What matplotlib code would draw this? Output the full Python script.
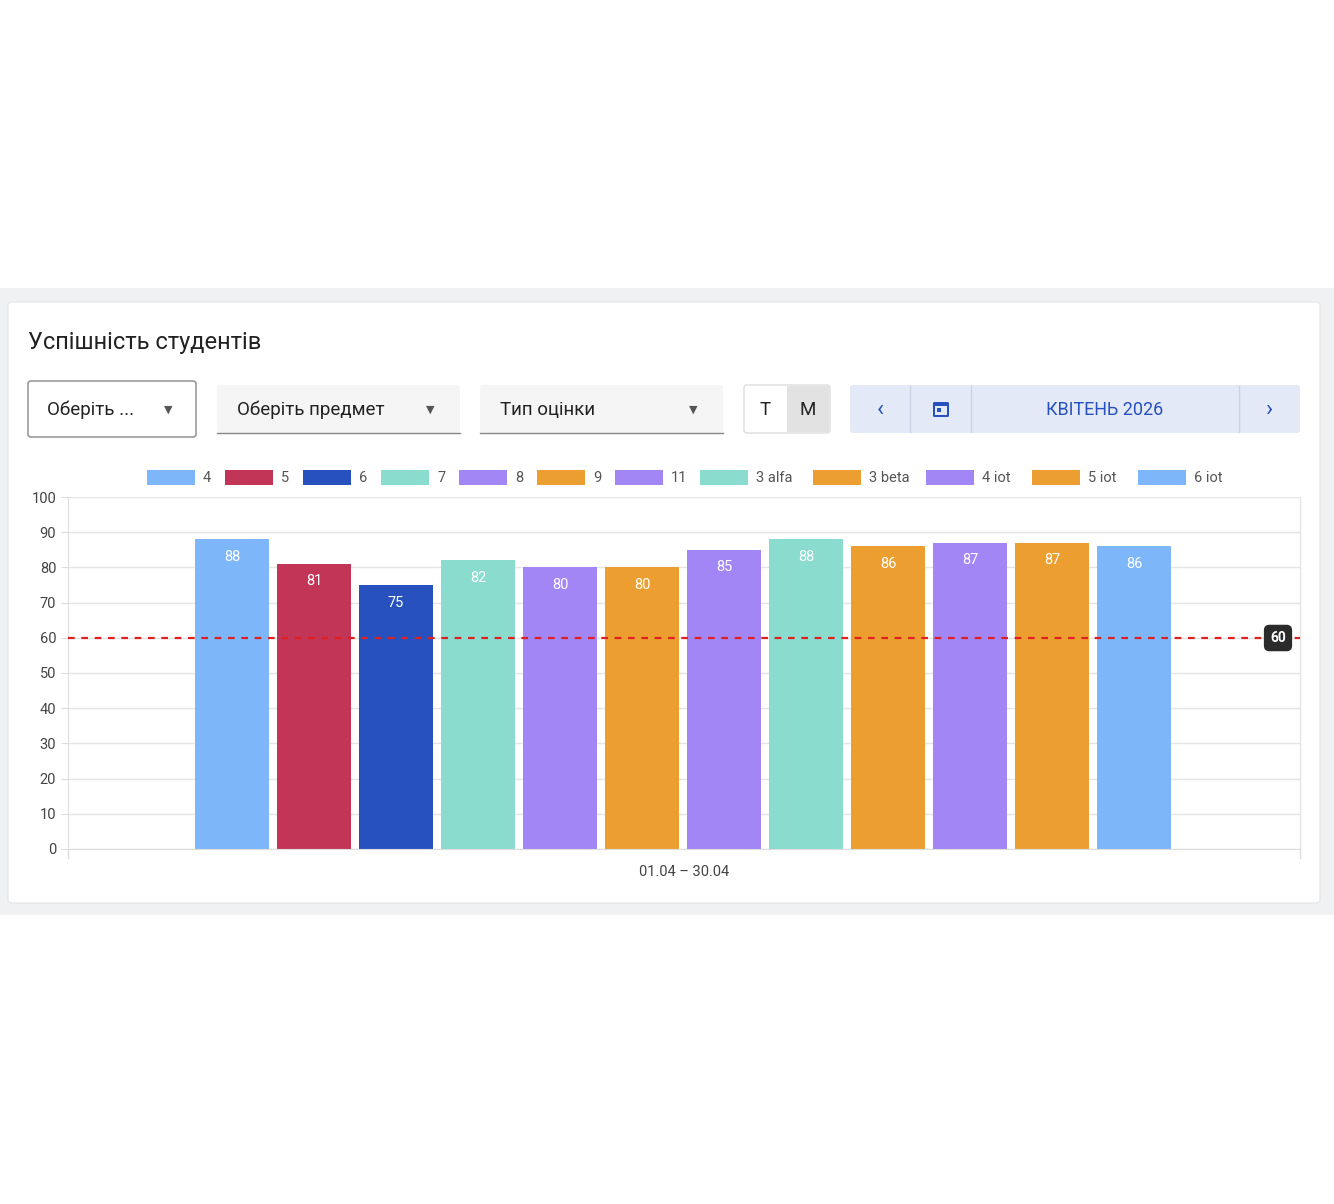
import matplotlib
matplotlib.use("Agg")
import matplotlib.pyplot as plt
from matplotlib.patches import FancyBboxPatch, Rectangle

labels = ["4","5","6","7","8","9","11","3 alfa","3 beta","4 iot","5 iot","6 iot"]
values = [88,81,75,82,80,80,85,88,86,87,87,86]
colors = ["#7EB6FA","#C33557","#2651BE","#8ADCCF","#A286F5","#EC9F30",
          "#A286F5","#8ADCCF","#EC9F30","#A286F5","#EC9F30","#7EB6FA"]
threshold = 60
yticks = list(range(0,101,10))
xlabel = "01.04 – 30.04"

W, H = 1334, 1204
fig = plt.figure(figsize=(W/100, H/100), dpi=100)
plt.rcParams['font.family'] = ['Roboto', 'DejaVu Sans']

def fx(x): return x/W
def fy(y): return 1 - y/H

def rect(x0, y0, x1, y1, fc, ec='none', lw=0, r=0, z=0):
    p = FancyBboxPatch((fx(x0), fy(y1)), fx(x1)-fx(x0), fy(y0)-fy(y1),
                       boxstyle=f"round,pad=0,rounding_size={r/W}",
                       fc=fc, ec=ec, lw=lw, transform=fig.transFigure, zorder=z)
    fig.patches.append(p)

rect(0, 288, W, 915, "#F0F1F3")
rect(8, 302, 1320, 903, "white", ec="#E4E4E4", lw=0.8, r=4)
fig.text(fx(28), fy(342), "Успішність студентів", fontsize=17, va='center', color='#222')

# controls
rect(28, 381, 196, 437, "white", ec="#888", lw=1, r=3)
fig.text(fx(47), fy(410), "Оберіть ...", fontsize=13.5, va='center', color='#222')
def tri(x, y):
    fig.text(fx(x), fy(y), "▼", fontsize=8, ha='center', va='center', color='#555')
tri(168, 410)
for x0, x1, t in [(217, 460, "Оберіть предмет"), (480, 723, "Тип оцінки")]:
    rect(x0, 385, x1, 433, "#F5F5F5", r=3)
    fig.lines.append(plt.Line2D([fx(x0), fx(x1)], [fy(433), fy(433)], color='#888', lw=1, transform=fig.transFigure))
    fig.text(fx(x0+20), fy(410), t, fontsize=13.5, va='center', color='#222')
    tri(x1-30, 410)
rect(744, 385, 830, 433, "white", ec="#DDD", lw=1, r=3)
rect(787, 386, 829, 432, "#E2E2E2")
fig.text(fx(765), fy(410), "Т", fontsize=13.5, ha='center', va='center', color='#222')
fig.text(fx(808), fy(410), "М", fontsize=13.5, ha='center', va='center', color='#222')
rect(850, 385, 1300, 433, "#E3E9F6", r=3)
for x in (910, 971, 1239):
    fig.lines.append(plt.Line2D([fx(x), fx(x)], [fy(386), fy(432)], color='#CBD3E6', lw=1, transform=fig.transFigure))
fig.text(fx(880), fy(409), "‹", fontsize=17, ha='center', va='center', color='#2651BE')
fig.text(fx(1270), fy(409), "›", fontsize=17, ha='center', va='center', color='#2651BE')
rect(933, 402, 949, 417, "#2651BE", r=1.5)
rect(935, 406, 947, 415, "#E3E9F6")
rect(937, 408, 941, 412, "#2651BE")
fig.text(fx(1105), fy(410), "КВІТЕНЬ 2026", fontsize=13, ha='center', va='center', color='#2651BE')

# axes
ax = fig.add_axes([fx(68), fy(849), fx(1300)-fx(68), fy(497)-fy(849)])
ax.set_zorder(2)
xs = list(range(len(values)))
bars = ax.bar(xs, values, width=0.9, color=colors, zorder=2)
for x, v in zip(xs, values):
    ax.text(x, v-3, str(v), ha='center', va='top', color='white', fontsize=10.5, zorder=3)
ax.axhline(threshold, color='#E02020', lw=1.6, ls=(0, (3, 3)), zorder=4)
ax.set_xlim(-2, 13.02)
ax.set_ylim(0, 100)
ax.set_yticks(yticks)
ax.set_xticks([])
ax.tick_params(axis='y', labelsize=10.5, colors='#444', length=5, color='#DDD')
ax.grid(axis='y', color='#E5E5E5', lw=1, zorder=0)
for s in ['top', 'right']:
    ax.spines[s].set_visible(False)
ax.spines['left'].set_color('#DDD')
ax.spines['bottom'].set_color('#DDD')
ax.plot([13.02, 13.02], [0, 100], color='#E5E5E5', lw=1, clip_on=False)
fig.lines.append(plt.Line2D([fx(68), fx(68)], [fy(849), fy(858)], color='#DDD', lw=1, transform=fig.transFigure))
fig.lines.append(plt.Line2D([fx(1300), fx(1300)], [fy(849), fy(858)], color='#DDD', lw=1, transform=fig.transFigure))
fig.text(fx(684), fy(872), xlabel, fontsize=10.5, ha='center', va='center', color='#444')
ax.text(1278, threshold, str(threshold), transform=ax.get_yaxis_transform() if False else ax.transData,
        ha='center', va='center')  if False else None
fig.text(fx(1278), fy(638), str(threshold), fontsize=10, fontweight='bold', ha='center', va='center',
         color='white', zorder=10,
         bbox=dict(boxstyle='round,pad=0.45,rounding_size=0.4', fc='#2B2B2B', ec='none'))

# legend
x = 147
for lab, c in zip(labels, colors):
    rect(x, 470, x+48, 485, c, z=3)
    t = fig.text(fx(x+56), fy(478), lab, fontsize=10.5, va='center', color='#555')
    x += 56 + len(lab)*7 + 0 + 15 + (0 if len(lab) > 1 else 0)
fig.savefig("out.png", dpi=100)
